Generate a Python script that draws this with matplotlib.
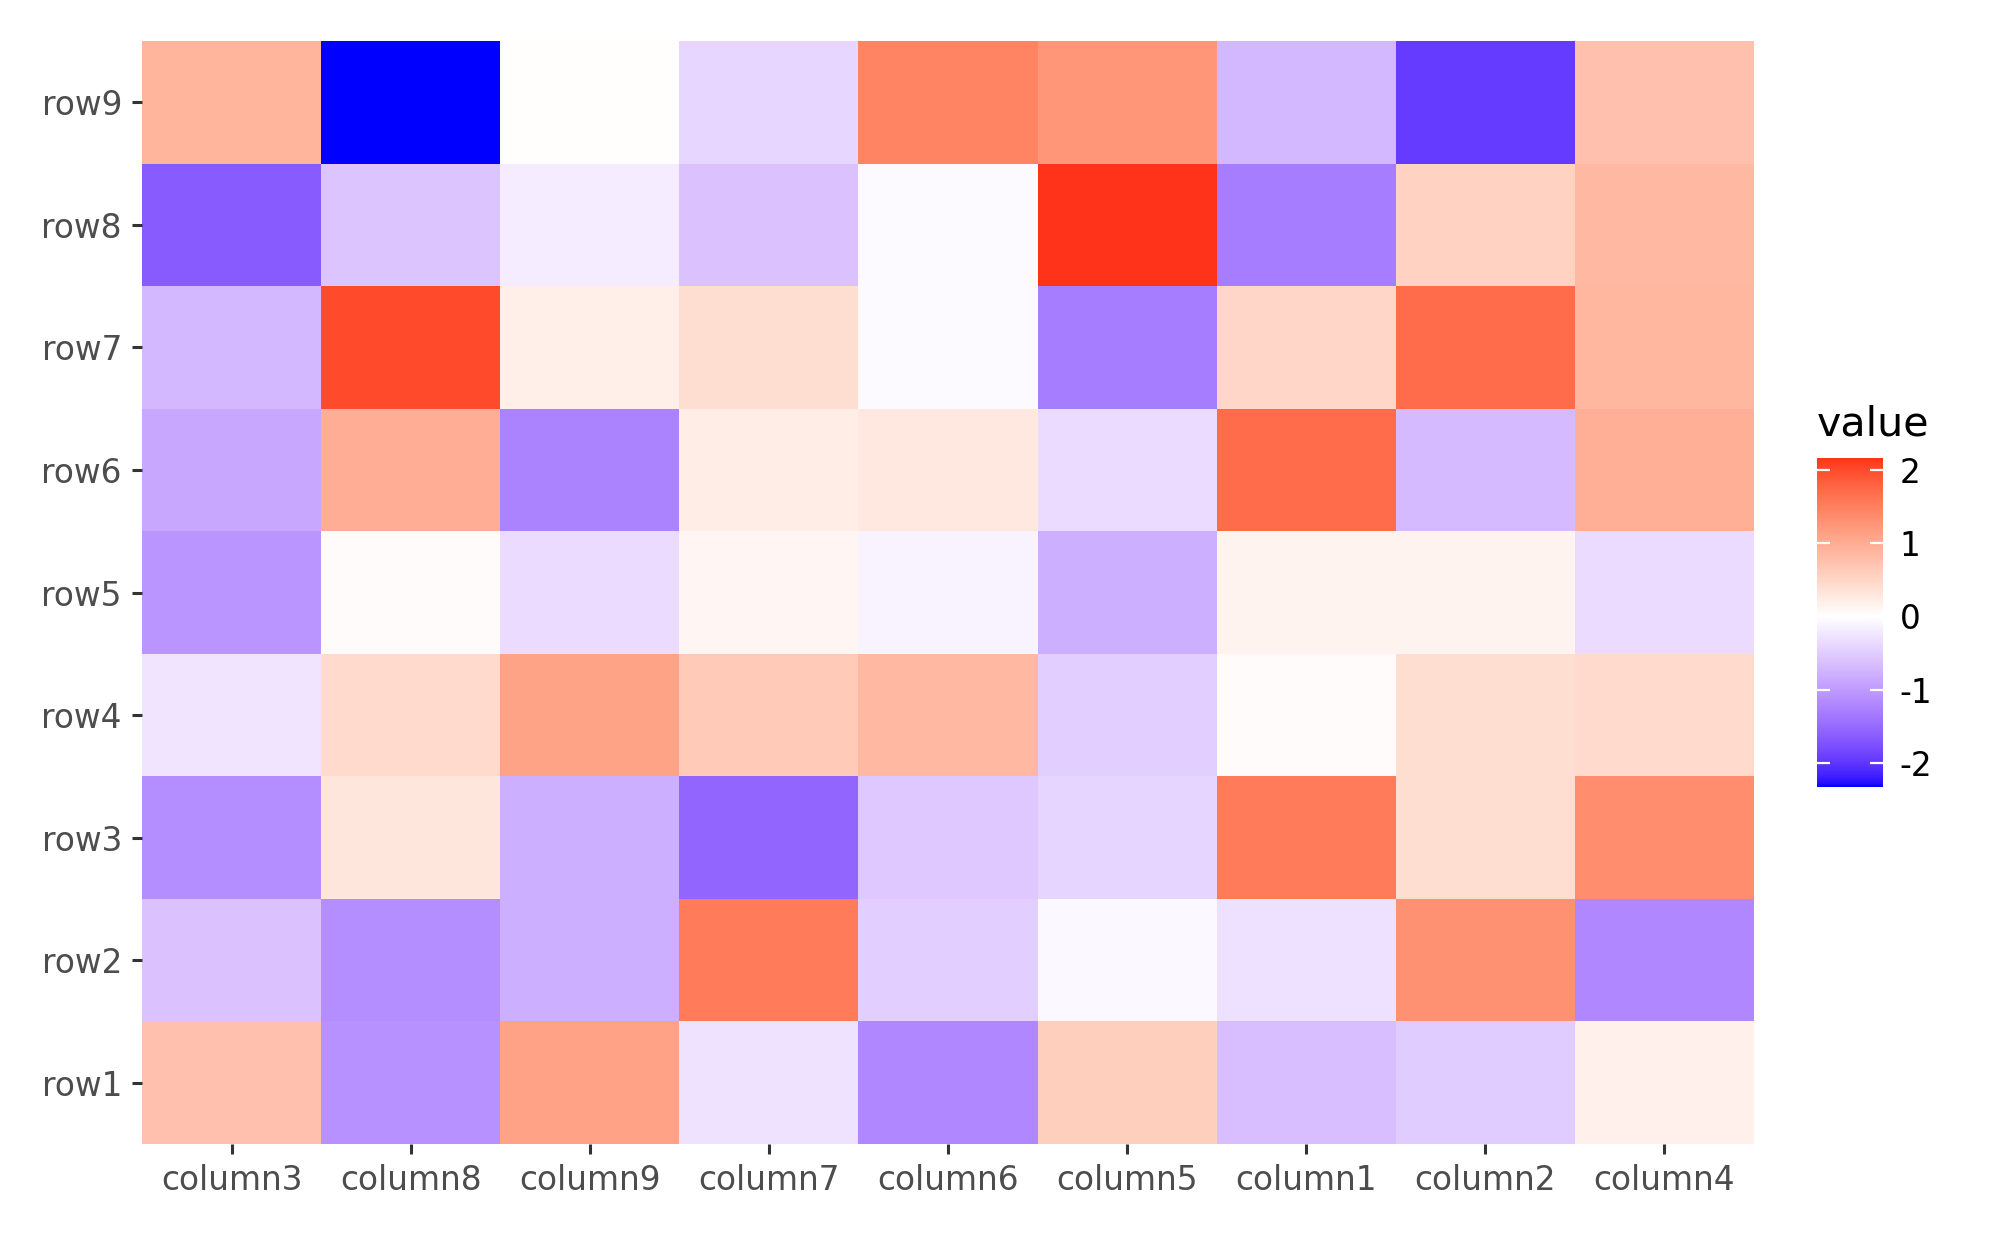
import numpy as np
import matplotlib as mpl
mpl.use('Agg')
import matplotlib.pyplot as plt
from matplotlib.colors import ListedColormap, Normalize

columns = ['column3', 'column8', 'column9', 'column7', 'column6',
           'column5', 'column1', 'column2', 'column4']
rows = ['row1', 'row2', 'row3', 'row4', 'row5', 'row6', 'row7', 'row8', 'row9']

# one list per row, in the column order above
row1 = [0.75, -1.10, 1.12, -0.28, -1.20, 0.58, -0.65, -0.50, 0.18]
row2 = [-0.60, -1.15, -0.80, 1.55, -0.47, -0.07, -0.30, 1.30, -1.20]
row3 = [-1.15, 0.30, -0.80, -1.55, -0.55, -0.42, 1.55, 0.40, 1.35]
row4 = [-0.26, 0.45, 1.10, 0.65, 0.85, -0.47, 0.05, 0.40, 0.45]
row5 = [-1.08, 0.05, -0.35, 0.12, -0.12, -0.80, 0.15, 0.15, -0.35]
row6 = [-0.88, 0.98, -1.25, 0.22, 0.28, -0.35, 1.70, -0.68, 0.97]
row7 = [-0.70, 2.00, 0.20, 0.40, -0.05, -1.30, 0.50, 1.70, 0.88]
row8 = [-1.65, -0.58, -0.18, -0.60, -0.05, 2.16, -1.30, 0.55, 0.85]
row9 = [0.90, -2.33, 0.02, -0.40, 1.45, 1.25, -0.70, -1.95, 0.75]

values = np.array([row1, row2, row3, row4, row5, row6, row7, row8, row9])


# ggplot-like gradient2: white in the middle, blending in Lab space
def srgb_to_lab(rgb):
    rgb = np.asarray(rgb, dtype=float)
    lin = np.where(rgb <= 0.04045, rgb / 12.92, ((rgb + 0.055) / 1.055) ** 2.4)
    m = np.array([[0.4124, 0.3576, 0.1805],
                  [0.2126, 0.7152, 0.0722],
                  [0.0193, 0.1192, 0.9505]])
    xyz = m @ lin
    xyz = xyz / np.array([0.95047, 1.0, 1.08883])
    f = np.where(xyz > 0.008856, np.cbrt(xyz), 7.787 * xyz + 16 / 116)
    return np.array([116 * f[1] - 16, 500 * (f[0] - f[1]), 200 * (f[1] - f[2])])


def lab_to_srgb(lab):
    L, a, b = lab
    fy = (L + 16) / 116
    fx = fy + a / 500
    fz = fy - b / 200
    f = np.array([fx, fy, fz])
    xyz = np.where(f ** 3 > 0.008856, f ** 3, (f - 16 / 116) / 7.787)
    xyz = xyz * np.array([0.95047, 1.0, 1.08883])
    minv = np.array([[3.2406, -1.5372, -0.4986],
                     [-0.9689, 1.8758, 0.0415],
                     [0.0557, -0.2040, 1.0570]])
    lin = minv @ xyz
    lin = np.clip(lin, 0, 1)
    rgb = np.where(lin <= 0.0031308, 12.92 * lin, 1.055 * lin ** (1 / 2.4) - 0.055)
    return np.clip(rgb, 0, 1)


lab_low = srgb_to_lab([0, 0, 1])
lab_mid = srgb_to_lab([1, 1, 1])
lab_high = srgb_to_lab([1, 0, 0])
cols = []
for t in np.linspace(-1, 1, 511):
    if t < 0:
        lab = lab_mid + (lab_low - lab_mid) * (-t)
    else:
        lab = lab_mid + (lab_high - lab_mid) * t
    cols.append(lab_to_srgb(lab))
cmap = ListedColormap(cols)

vmin = values.min()
vmax = values.max()
lim = max(abs(vmin), abs(vmax))
norm = Normalize(vmin=-lim, vmax=lim)

fig = plt.figure(figsize=(10, 6.18), dpi=200)
ax = fig.add_axes([0.071, 0.0744, 0.806, 0.8924])

ax.pcolormesh(np.arange(len(columns) + 1), np.arange(len(rows) + 1), values,
              cmap=cmap, norm=norm, edgecolor='none')
ax.set_xlim(0, len(columns))
ax.set_ylim(0, len(rows))
ax.set_xticks(np.arange(len(columns)) + 0.5)
ax.set_xticklabels(columns)
ax.set_yticks(np.arange(len(rows)) + 0.5)
ax.set_yticklabels(rows)
for s in ax.spines.values():
    s.set_visible(False)
ax.tick_params(axis='both', length=3.7, width=1.1, color='#333333',
               labelsize=11.8, labelcolor='#4D4D4D', pad=3.5)

# colour bar
cax = fig.add_axes([0.9085, 0.3633, 0.033, 0.266])
sm = mpl.cm.ScalarMappable(norm=norm, cmap=cmap)
cb = fig.colorbar(sm, cax=cax, boundaries=np.linspace(vmin, vmax, 400),
                  ticks=[-2, -1, 0, 1, 2])
cb.outline.set_visible(False)
cb.ax.set_yticklabels(['-2', '-1', '0', '1', '2'])
cb.ax.yaxis.set_ticks_position('both')
cb.ax.tick_params(axis='y', direction='in', length=4.7, width=0.8,
                  color='white', labelsize=11.8, labelcolor='black', pad=6,
                  left=True, right=True, labelleft=False, labelright=True)
fig.text(0.9085, 0.648, 'value', fontsize=14.8, ha='left', va='baseline')

fig.savefig('out.png', dpi=200)
